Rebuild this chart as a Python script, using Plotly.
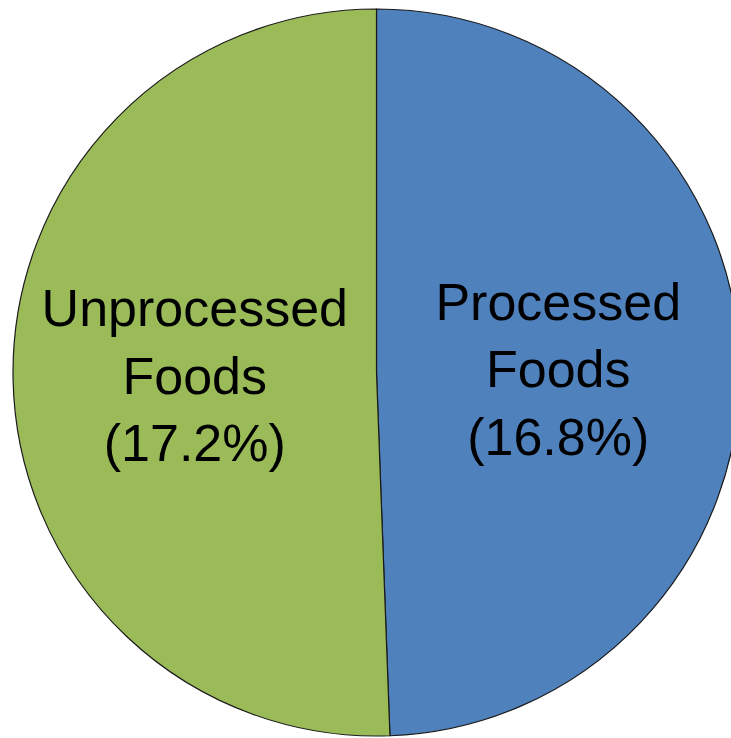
import plotly.graph_objects as go

categories = ["Processed Foods", "Unprocessed Foods"]
values = [16.8, 17.2]
colors = ["#4F81BD", "#9BBB59"]

text = [f"{c.replace(' ', '<br>')}<br>({v:.1f}%)" for c, v in zip(categories, values)]

fig = go.Figure(go.Pie(
    labels=categories,
    values=values,
    text=text,
    textinfo="text",
    textposition="inside",
    insidetextorientation="horizontal",
    sort=False,
    direction="clockwise",
    rotation=0,
    marker=dict(colors=colors, line=dict(color="#1a1a1a", width=1.2)),
    textfont=dict(family="Liberation Sans, Arial, sans-serif", size=52, color="black"),
    showlegend=False,
    hoverinfo="label+value",
))

fig.update_layout(
    width=740, height=738, autosize=False,
    margin=dict(l=13, r=0, t=9, b=2),
    paper_bgcolor="white", plot_bgcolor="white",
)

fig.write_html("out.html", post_script="document.body.style.overflow='hidden';document.documentElement.style.overflow='hidden';document.body.style.margin='0';")
